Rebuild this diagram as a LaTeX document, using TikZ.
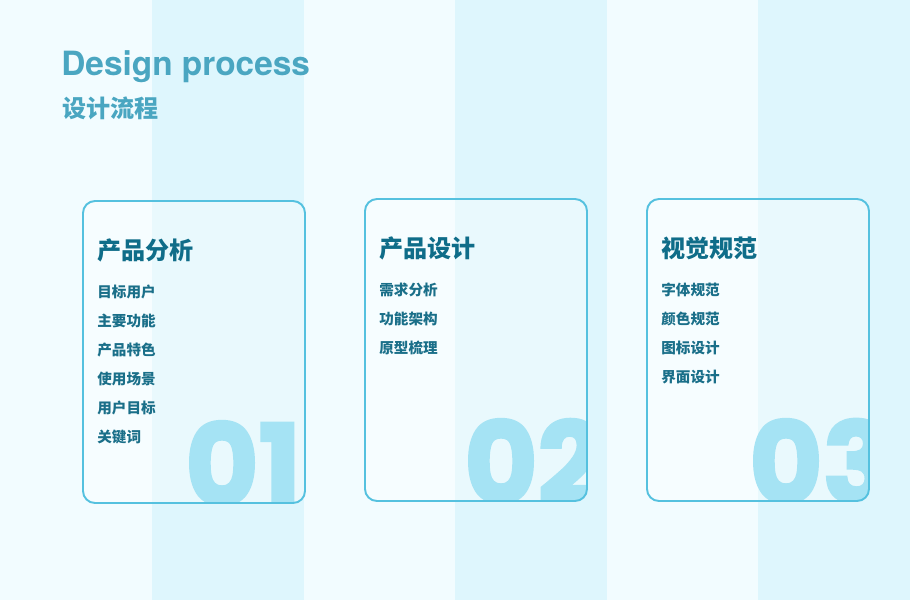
\documentclass[tikz,border=0pt]{standalone}
\usepackage{fontspec}
\setmainfont{TeX Gyre Heros}
\newfontfamily\cjk{Noto Sans CJK SC}
\newfontfamily\numfont{Poppins}[BoldFeatures={FakeBold=2.5}]
\usetikzlibrary{positioning}

\definecolor{bgpale}{HTML}{F2FCFF}
\definecolor{bgstripe}{HTML}{DEF6FD}
\definecolor{titleblue}{HTML}{4AA6C1}
\definecolor{headteal}{HTML}{0F6D89}
\definecolor{itemteal}{HTML}{1A6F89}
\definecolor{cardline}{HTML}{55C1DF}
\definecolor{numblue}{HTML}{A5E3F4}

\tikzset{
  card/.style={draw=cardline, line width=1.1pt, rounded corners=0.24cm},
  cardhead/.style={anchor=west, inner sep=0pt, text=headteal, font=\cjk\bfseries\fontsize{13.7pt}{16pt}\selectfont},
  carditem/.style={anchor=west, inner sep=0pt, text=itemteal, font=\cjk\bfseries\fontsize{8.3pt}{10pt}\selectfont},
  bignum/.style={anchor=base west, inner sep=0pt, text=numblue, font=\numfont\bfseries\fontsize{64pt}{64pt}\selectfont},
}

\begin{document}
\begin{tikzpicture}[x=0.02cm, y=-0.02cm]
    \useasboundingbox (0,0) rectangle (910,600);
    \fill[bgpale] (0,0) rectangle (910,600);
    \foreach \sx in {152,455,758} {
        \fill[bgstripe] (\sx,0) rectangle ++(152,600);
    }

    % title
    \node[anchor=west, inner sep=0pt, text=titleblue, font=\bfseries\fontsize{19pt}{23pt}\selectfont] (title) at (61,67) {Design process};
    \node[anchor=west, inner sep=0pt, text=titleblue, font=\cjk\bfseries\fontsize{13.7pt}{16pt}\selectfont] (subtitle) at (62,108) {设计流程};

    % card 1
    \fill[white, opacity=0.35, rounded corners=0.24cm] (83,201) rectangle (305,503);
    \begin{scope}
        \clip[rounded corners=0.24cm] (83,201) rectangle (305,503);
        \node[bignum] (num1) at (185,505) {01};
    \end{scope}
    \draw[card] (83,201) rectangle (305,503);
    \node[cardhead] (head1) at (97,250) {产品分析};
    \foreach \t [count=\i] in {目标用户,主要功能,产品特色,使用场景,用户目标,关键词} {
        \node[carditem] (item1-\i) at (97,{292+29*(\i-1)}) {\t};
    }

    % card 2
    \fill[white, opacity=0.35, rounded corners=0.24cm] (365,199) rectangle (587,501);
    \begin{scope}
        \clip[rounded corners=0.24cm] (365,199) rectangle (587,501);
        \node[bignum] (num2) at (464,503) {02};
    \end{scope}
    \draw[card] (365,199) rectangle (587,501);
    \node[cardhead] (head2) at (379,248) {产品设计};
    \foreach \t [count=\i] in {需求分析,功能架构,原型梳理} {
        \node[carditem] (item2-\i) at (379,{290+29*(\i-1)}) {\t};
    }

    % card 3
    \fill[white, opacity=0.35, rounded corners=0.24cm] (647,199) rectangle (869,501);
    \begin{scope}
        \clip[rounded corners=0.24cm] (647,199) rectangle (869,501);
        \node[bignum] (num3) at (749,503) {03};
    \end{scope}
    \draw[card] (647,199) rectangle (869,501);
    \node[cardhead] (head3) at (661,248) {视觉规范};
    \foreach \t [count=\i] in {字体规范,颜色规范,图标设计,界面设计} {
        \node[carditem] (item3-\i) at (661,{290+29*(\i-1)}) {\t};
    }
\end{tikzpicture}
\end{document}
